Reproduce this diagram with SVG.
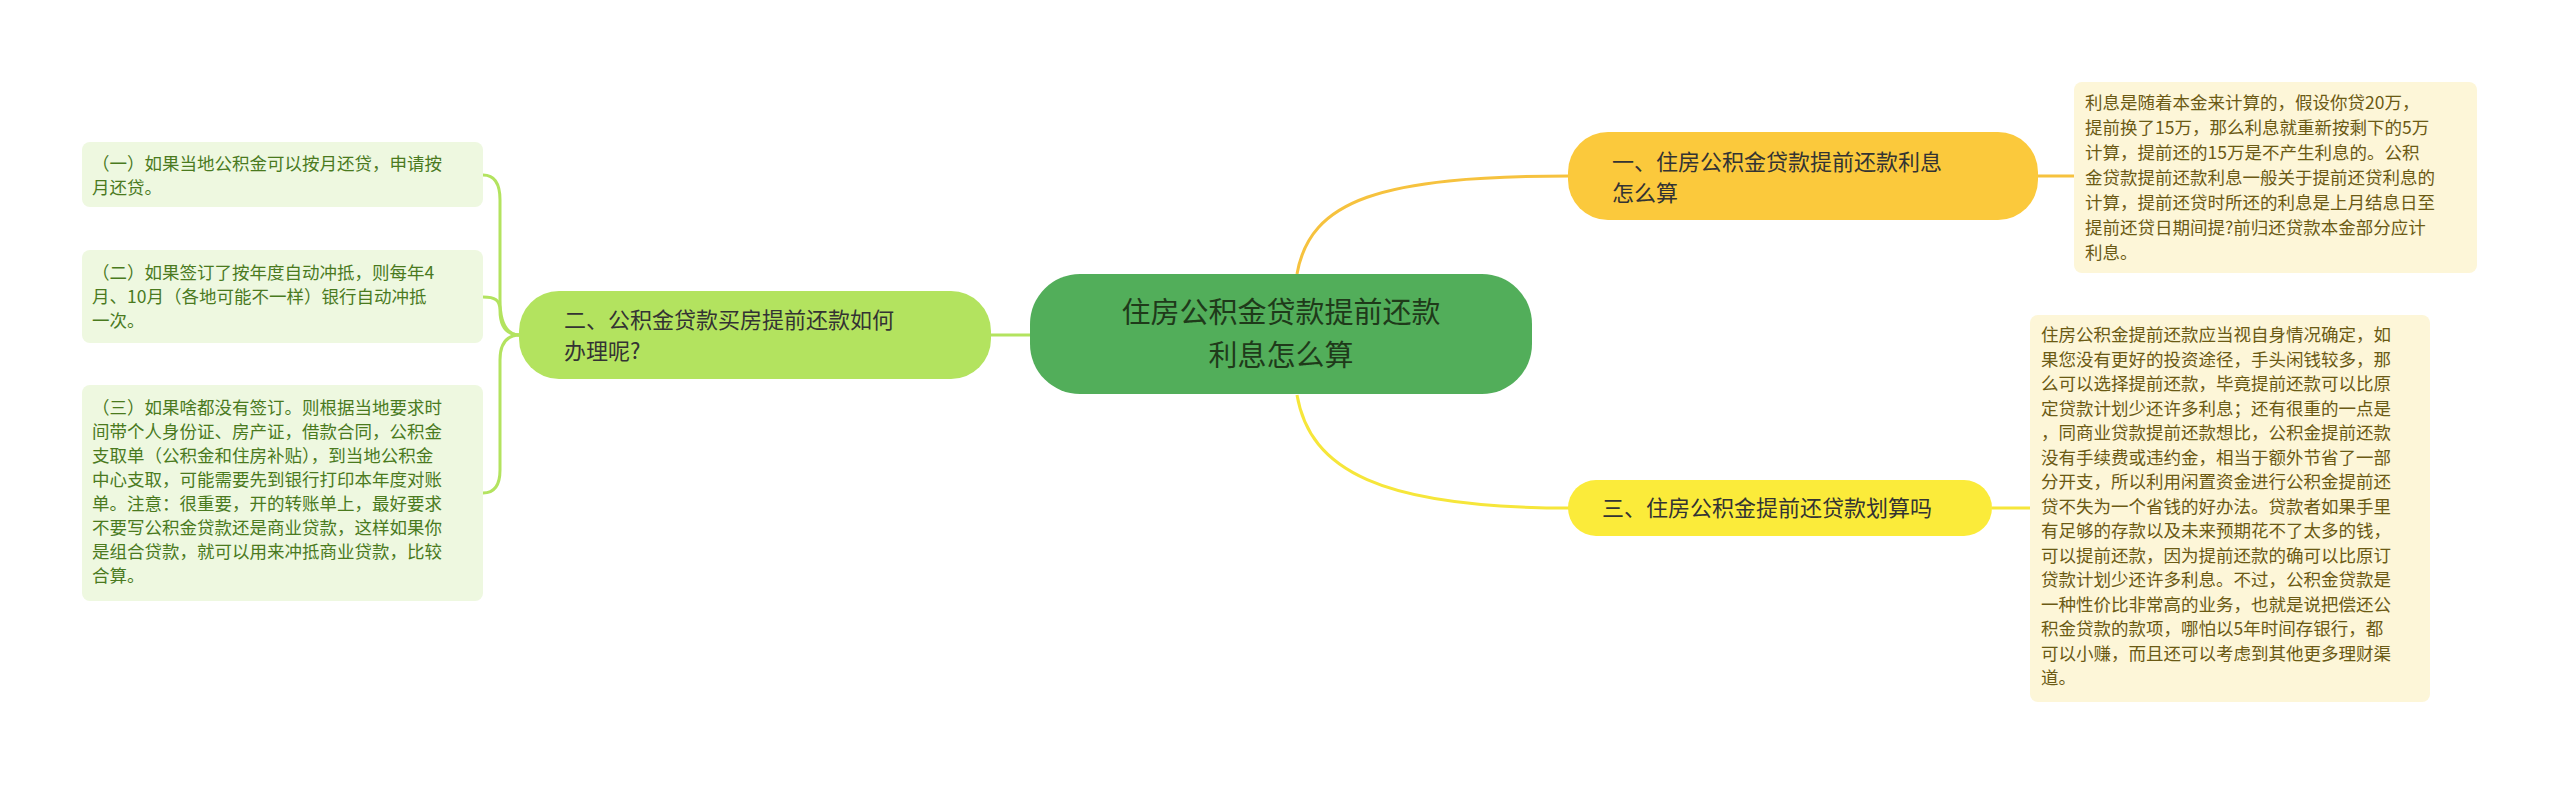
<svg xmlns="http://www.w3.org/2000/svg" width="2560" height="785" viewBox="0 0 2560 785">
<style>
text{font-family:"Noto Sans CJK SC","Noto Sans",sans-serif}
.c{font-size:29px;fill:#1f3a1a}
.n{font-size:22px;fill:#333}
.lt{font-size:17.5px;fill:#4a7a1e}
.rt{font-size:17.5px;fill:#6b5a14}
.ll{fill:#eef8e0}
.rl{fill:#fdf6d8}
.k{fill:none;stroke-width:3}
</style>
<rect width="2560" height="785" fill="#fff"/>
<g id="connectors">
<path class="k" stroke="#f6c23e" d="M1297 274 C1310 200 1380 176 1570 176"/>
<path class="k" stroke="#f6e63a" d="M1297 395 C1310 470 1380 508 1570 508"/>
<path class="k" stroke="#b3e35f" d="M1032 335 L990 335"/>
<path class="k" stroke="#b3e35f" d="M520 335 C505 335 500 320 500 300 L500 200 C500 185 495 175 483 175"/>
<path class="k" stroke="#b3e35f" d="M520 335 C505 335 500 325 500 310 C500 300 495 297 483 297"/>
<path class="k" stroke="#b3e35f" d="M520 335 C505 335 500 345 500 360 L500 470 C500 485 495 493 483 493"/>
<path class="k" stroke="#f6c23e" d="M2038 176 L2074 176"/>
<path class="k" stroke="#f6e63a" d="M1992 508 L2030 508"/>
</g>
<g id="center">
<rect x="1030" y="274" width="502" height="120" rx="50" fill="#52ae5a"/>
<text class="c" x="1281" y="323" text-anchor="middle">住房公积金贷款提前还款</text>
<text class="c" x="1281" y="366" text-anchor="middle">利息怎么算</text>
</g>
<g id="n1">
<rect x="1568" y="132" width="470" height="88" rx="40" fill="#fbc93c"/>
<text class="n" x="1612" y="170">一、住房公积金贷款提前还款利息</text>
<text class="n" x="1612" y="201">怎么算</text>
</g>
<g id="n2">
<rect x="519" y="291" width="472" height="88" rx="40" fill="#b3e35f"/>
<text class="n" x="564" y="328">二、公积金贷款买房提前还款如何</text>
<text class="n" x="564" y="359">办理呢?</text>
</g>
<g id="n3">
<rect x="1568" y="480" width="424" height="56" rx="28" fill="#fbeb3a"/>
<text class="n" x="1602" y="516">三、住房公积金提前还贷款划算吗</text>
</g>
<g id="l1">
<rect class="ll" x="82" y="142" width="401" height="65" rx="8"/>
<text class="lt" x="92" y="170"><tspan x="92">  （一）如果当地公积金可以按月还贷，申请按</tspan><tspan x="92" dy="24">月还贷。</tspan></text>
</g>
<g id="l2">
<rect class="ll" x="82" y="250" width="401" height="93" rx="8"/>
<text class="lt" x="92" y="279"><tspan x="92">  （二）如果签订了按年度自动冲抵，则每年4</tspan><tspan x="92" dy="24">月、10月（各地可能不一样）银行自动冲抵</tspan><tspan x="92" dy="24">一次。</tspan></text>
</g>
<g id="l3">
<rect class="ll" x="82" y="385" width="401" height="216" rx="8"/>
<text class="lt" x="92" y="414"><tspan x="92">  （三）如果啥都没有签订。则根据当地要求时</tspan><tspan x="92" dy="24">间带个人身份证、房产证，借款合同，公积金</tspan><tspan x="92" dy="24">支取单（公积金和住房补贴），到当地公积金</tspan><tspan x="92" dy="24">中心支取，可能需要先到银行打印本年度对账</tspan><tspan x="92" dy="24">单。注意：很重要，开的转账单上，最好要求</tspan><tspan x="92" dy="24">不要写公积金贷款还是商业贷款，这样如果你</tspan><tspan x="92" dy="24">是组合贷款，就可以用来冲抵商业贷款，比较</tspan><tspan x="92" dy="24">合算。</tspan></text>
</g>
<g id="r1">
<rect class="rl" x="2074" y="82" width="403" height="191" rx="8"/>
<text class="rt" x="2085" y="109"><tspan x="2085">利息是随着本金来计算的，假设你贷20万，</tspan><tspan x="2085" dy="25">提前换了15万，那么利息就重新按剩下的5万</tspan><tspan x="2085" dy="25">计算，提前还的15万是不产生利息的。公积</tspan><tspan x="2085" dy="25">金贷款提前还款利息一般关于提前还贷利息的</tspan><tspan x="2085" dy="25">计算，提前还贷时所还的利息是上月结息日至</tspan><tspan x="2085" dy="25">提前还贷日期间提?前归还贷款本金部分应计</tspan><tspan x="2085" dy="25">利息。</tspan></text>
</g>
<g id="r2">
<rect class="rl" x="2030" y="315" width="400" height="387" rx="8"/>
<text class="rt" x="2041" y="341"><tspan x="2041">住房公积金提前还款应当视自身情况确定，如</tspan><tspan x="2041" dy="24.5">果您没有更好的投资途径，手头闲钱较多，那</tspan><tspan x="2041" dy="24.5">么可以选择提前还款，毕竟提前还款可以比原</tspan><tspan x="2041" dy="24.5">定贷款计划少还许多利息；还有很重的一点是</tspan><tspan x="2041" dy="24.5">，同商业贷款提前还款想比，公积金提前还款</tspan><tspan x="2041" dy="24.5">没有手续费或违约金，相当于额外节省了一部</tspan><tspan x="2041" dy="24.5">分开支，所以利用闲置资金进行公积金提前还</tspan><tspan x="2041" dy="24.5">贷不失为一个省钱的好办法。贷款者如果手里</tspan><tspan x="2041" dy="24.5">有足够的存款以及未来预期花不了太多的钱，</tspan><tspan x="2041" dy="24.5">可以提前还款，因为提前还款的确可以比原订</tspan><tspan x="2041" dy="24.5">贷款计划少还许多利息。不过，公积金贷款是</tspan><tspan x="2041" dy="24.5">一种性价比非常高的业务，也就是说把偿还公</tspan><tspan x="2041" dy="24.5">积金贷款的款项，哪怕以5年时间存银行，都</tspan><tspan x="2041" dy="24.5">可以小赚，而且还可以考虑到其他更多理财渠</tspan><tspan x="2041" dy="24.5">道。</tspan></text>
</g>
</svg>
